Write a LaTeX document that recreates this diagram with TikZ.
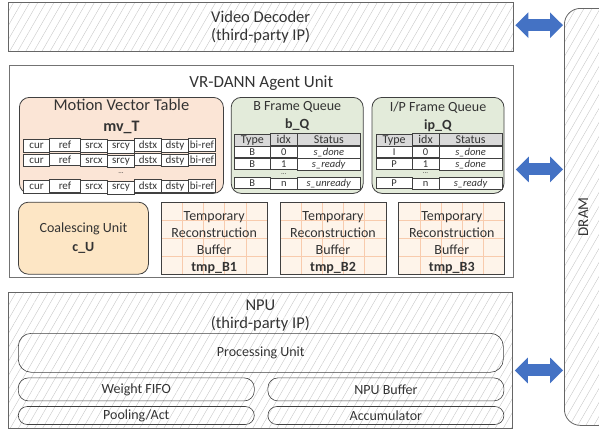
\documentclass[tikz,border=0pt]{standalone}
\usepackage{fontspec}
\setmainfont{Carlito}
\usetikzlibrary{positioning, matrix, patterns.meta, arrows.meta}

\definecolor{mvpeach}{HTML}{FBE5D6}
\definecolor{qgreen}{HTML}{E3EBDA}
\definecolor{cuorange}{HTML}{FDE6C5}
\definecolor{tmppaper}{HTML}{FEF4EA}
\definecolor{tmpline}{HTML}{F8CBAD}
\definecolor{hdrgray}{HTML}{D9D9D9}
\definecolor{busblue}{HTML}{4472C4}

\newcommand{\fsz}[2]{\fontsize{#1}{#2}\selectfont}

\tikzset{
  hatch/.style={pattern={Lines[angle=60,distance=7pt,line width=0.4pt]},
    pattern color=black!22},
  ipblock/.style={draw=black!60, line width=0.8pt, hatch, anchor=north west,
    inner sep=0pt, align=center, font=\fsz{16.5}{18}},
  caption/.style={inner sep=0pt, align=center},
  queue/.style={draw=black!75, line width=0.8pt, rounded corners=10pt,
    fill=qgreen, minimum width=132pt, minimum height=96pt, inner sep=0pt},
  cell/.style={draw=black!75, line width=0.6pt, fill=white, inner sep=0pt},
  gap/.style={draw=none, fill=none, font=\fsz{7}{7}},
  qtable/.style={matrix of nodes, anchor=north west, inner sep=0pt,
    column sep=-0.6pt, row sep=-0.6pt,
    nodes={cell, minimum height=11.5pt, font=\fsz{10.5}{10.5}},
    column 1/.style={nodes={minimum width=36pt}},
    column 2/.style={nodes={minimum width=27pt}},
    column 3/.style={nodes={minimum width=63pt}},
    row 1/.style={nodes={fill=hdrgray, font=\fsz{12}{12}}}},
  buftext/.style={caption, font=\fsz{14}{17}, yshift=-4.5pt},
  tmpbuf/.style={draw=black!75, line width=0.8pt, fill=tmppaper,
    minimum width=106pt, minimum height=72pt, inner sep=0pt,
    path picture={
      \foreach \k in {1,...,4}
        \draw[tmpline, line width=0.7pt]
          ([xshift=\k*21.2pt]path picture bounding box.north west) --
          ([xshift=\k*21.2pt]path picture bounding box.south west);
      \foreach \k in {1,2,3}
        \draw[tmpline, line width=0.7pt]
          ([yshift=-\k*18pt]path picture bounding box.north west) --
          ([yshift=-\k*18pt]path picture bounding box.north east);},
    label={[buftext]center:#1}},
  npupart/.style={draw=black!75, line width=0.6pt, rounded corners=10pt,
    inner sep=0pt, font=\fsz{14}{14}},
  dbl/.style={busblue, line width=12pt,
    {Triangle[length=13pt,width=25pt]}-{Triangle[length=13pt,width=25pt]}},
}

\begin{document}
\begin{tikzpicture}[x=1pt, y=-1pt, every node/.append style={text=black!80}]
\clip (0,0) rectangle (599,432);

% third-party blocks and memory
\node[ipblock, minimum width=505pt, minimum height=49pt] (vd) at (8,2)
    {Video Decoder\\(third-party IP)};
\node[ipblock, rounded corners=16pt, minimum width=50pt, minimum height=417pt]
    (dram) at (564,8) {};
\node[rotate=90, font=\fsz{15}{15}] (dramname) at ([xshift=-6pt]dram.center) {DRAM};

% agent unit
\node[draw=black!55, line width=0.8pt, anchor=north west, inner sep=0pt,
    minimum width=504pt, minimum height=212pt] (agent) at (9,65) {};
\node[caption, font=\fsz{17}{17}, below=11pt of agent.north] (agentname)
    {VR-DANN Agent Unit};

\node[draw=black!75, line width=0.8pt, rounded corners=10pt, fill=mvpeach,
    anchor=north west, minimum width=204pt, minimum height=96pt] (mv) at (19,97) {};
\node[caption, font=\fsz{16.5}{16.5}, below=2pt of mv.north] (mvname)
    {Motion Vector Table};
\node[caption, font=\fsz{16}{16}\bfseries, below=9.5pt of mvname] (mvid) {mv\_T};
\matrix (mvtab) [matrix of nodes, anchor=north west, inner sep=0pt,
    column sep=-0.6pt, row sep=-0.6pt,
    nodes={cell, minimum height=12.5pt, minimum width=27pt, font=\fsz{11}{11}},
    column 1/.style={nodes={minimum width=26pt}},
    column 2/.style={nodes={minimum width=31pt}}]
  at ([xshift=4pt,yshift=-41pt]mv.north west) {
  cur & ref & srcx & srcy & dstx & dsty & bi-ref \\
  cur & ref & srcx & srcy & dstx & dsty & bi-ref \\
      &     &      & |[gap]| ... &  &  &        \\
  cur & ref & srcx & srcy & dstx & dsty & bi-ref \\
};

\node[queue, right=7pt of mv] (bq) {};
\node[caption, font=\fsz{14}{14}, below=4.5pt of bq.north] (bqname) {B Frame Queue};
\node[caption, font=\fsz{14}{14}\bfseries, below=5.5pt of bqname] (bqid) {b\_Q};
\matrix (bqtab) [qtable] at ([xshift=3pt,yshift=-36pt]bq.north west) {
  Type & idx & Status \\
  B & 0 & \textit{s\_done} \\
  B & 1 & \textit{s\_ready} \\
    & |[gap, minimum height=7.5pt]| ... & \\
  B & n & \textit{s\_unready} \\
};

\node[queue, right=8pt of bq] (ipq) {};
\node[caption, font=\fsz{14}{14}, below=4.5pt of ipq.north] (ipqname) {I/P Frame Queue};
\node[caption, font=\fsz{14}{14}\bfseries, below=5.5pt of ipqname] (ipqid) {ip\_Q};
\matrix (ipqtab) [qtable] at ([xshift=4pt,yshift=-36pt]ipq.north west) {
  Type & idx & Status \\
  I & 0 & \textit{s\_done} \\
  P & 1 & \textit{s\_done} \\
    & |[gap, minimum height=7.5pt]| ... & \\
  P & n & \textit{s\_ready} \\
};

\node[draw=black!75, line width=0.8pt, rounded corners=10pt, fill=cuorange,
    minimum width=130pt, minimum height=72pt, inner sep=0pt, align=center,
    font=\fsz{14}{19}, below=8pt of mv.south west, anchor=north west, xshift=-1pt]
    (cu) {Coalescing Unit\\\textbf{c\_U}};
\node[tmpbuf={Temporary\\Reconstruction\\Buffer\\\textbf{tmp\_B1}}, right=12pt of cu] (tmp1) {};
\node[tmpbuf={Temporary\\Reconstruction\\Buffer\\\textbf{tmp\_B2}}, right=12pt of tmp1] (tmp2) {};
\node[tmpbuf={Temporary\\Reconstruction\\Buffer\\\textbf{tmp\_B3}}, right=12pt of tmp2] (tmp3) {};

% NPU
\node[ipblock, minimum width=504pt, minimum height=136pt] (npu) at (8,292) {};
\node[caption, font=\fsz{16.5}{18}, below=7.5pt of npu.north] (npuname)
    {NPU\\(third-party IP)};
\node[npupart, rounded corners=13pt, minimum width=485pt, minimum height=39pt,
    anchor=north west] (pu) at ([xshift=10pt,yshift=-41pt]npu.north west) {Processing Unit};
\node[npupart, minimum width=236pt, minimum height=23pt,
    below=5pt of pu.south west, anchor=north west] (wf) {Weight FIFO};
\node[npupart, minimum width=236pt, minimum height=23pt, right=13pt of wf] (nb) {NPU Buffer};
\node[npupart, rounded corners=9pt, minimum width=236pt, minimum height=18pt,
    below=5pt of wf.south west, anchor=north west] (pool) {Pooling/Act};
\node[npupart, rounded corners=9pt, minimum width=236pt, minimum height=18pt,
    right=13pt of pool] (acc) {Accumulator};

% links to DRAM
\coordinate (vdport) at ([yshift=1.5pt]vd.east);
\coordinate (agentport) at ([yshift=2pt]agent.east);
\coordinate (npuport) at ([yshift=-10pt]npu.east);
\draw[dbl, shorten <=2pt, shorten >=1pt] (vdport) -- (vdport -| dram.west);
\draw[dbl, shorten <=2pt, shorten >=1pt] (agentport) -- (agentport -| dram.west);
\draw[dbl, shorten <=2pt, shorten >=1pt] (npuport) -- (npuport -| dram.west);
\end{tikzpicture}
\end{document}
